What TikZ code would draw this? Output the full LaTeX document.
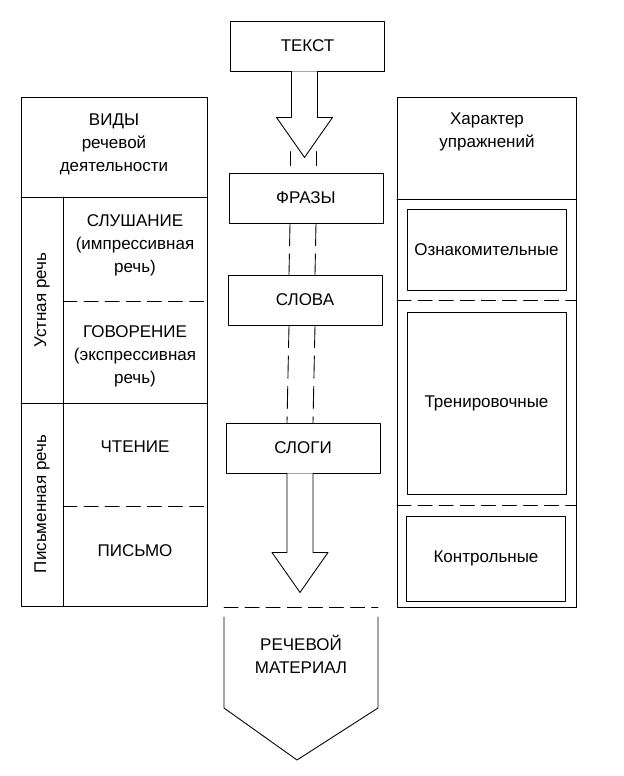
\documentclass[tikz,border=0pt]{standalone}
\usepackage{fontspec}
\setmainfont{Liberation Sans}
\usetikzlibrary{calc}
\newcommand{\hollowarrow}[3]{% #1 node, #2 shaft, #3 head
	\draw[fill=white] ($(#1.south)+(-16,0)$) -- ++(0,#2) -- ++(-15,0) -- ++(28,#3) -- ++(28,-#3) -- ++(-15,0) -- ++(0,-#2);}
\begin{document}
\begin{tikzpicture}[line join=round, line cap=round, x=0.03cm, y=-0.03cm, line width=0.75pt]
	\tikzset{every node/.style={font=\fontsize{14.5}{19.6}\selectfont, align=center, inner sep=0pt},
		box/.style={draw, minimum width=4.62cm, minimum height=1.5cm},
		cell/.style={draw, minimum width=4.77cm},
		dline/.style={dash pattern=on 12pt off 6pt},
		vline/.style={dash pattern=on 19pt off 7pt}}
	\useasboundingbox (0,0) rectangle (624,776);
	% center
	\node[box] (tekst) at (307.5,46) {ТЕКСТ};
	\node[box] (frazy) at (306,198) {ФРАЗЫ};
	\node[box] (slova) at (305,300) {СЛОВА};
	\node[box] (slogi) at (303,448) {СЛОГИ};
	\foreach \dx in {-16,10}
		\draw ($(frazy.north)+(\dx,-21)$) -- ++(0,14);
	\hollowarrow{tekst}{46}{40}
	\foreach \dx in {-16,10} {
		\draw[vline] ($(frazy.south)+(\dx,0)$) -- ($(slova.north)+(\dx,0)$);
		\draw[vline] ($(slova.south)+(\dx,0)$) -- ($(slogi.north)+(\dx,0)$);
	}
	\hollowarrow{slogi}{79}{40}
	\draw[dline] (224,607) -- (378,607);
	\node (mat) at (301,654) {РЕЧЕВОЙ\\МАТЕРИАЛ};
	\draw (224,617) -- (224,708) -- (297,760) -- (378,708) -- (378,617);
	% left
	\draw (21,97) rectangle (207,606);
	\draw (21,197) -- (207,197);
	\draw (63,197) -- (63,606);
	\draw (21,403) -- (207,403);
	\draw[dline] (63,301) -- (207,301);
	\draw[dline] (63,506) -- (207,506);
	\node (vidy) at (114,144) {ВИДЫ\\речевой\\деятельности};
	\node[rotate=90] (ustn) at (42,300) {Устная речь};
	\node[rotate=90] (pism) at (42,504) {Письменная речь};
	\node (slush) at (135,245) {СЛУШАНИЕ\\(импрессивная\\речь)};
	\node (govor) at (135,356) {ГОВОРЕНИЕ\\(экспрессивная\\речь)};
	\node (chten) at (135,447) {ЧТЕНИЕ};
	\node (pismo) at (135,551) {ПИСЬМО};
	% right
	\draw (397,97) rectangle (576,607);
	\draw (397,199) -- (576,199);
	\draw[dline] (397,300) -- (576,300);
	\draw[dline] (397,505) -- (576,505);
	\node (harakt) at (487,132) {Характер\\упражнений};
	\node[cell, minimum height=2.43cm] (oznak) at (486.5,249.5) {Ознакомительные};
	\node[cell, minimum height=5.46cm] (trenir) at (486.5,403) {Тренировочные};
	\node[cell, minimum height=2.55cm] (kontr) at (486,558.5) {Контрольные};
\end{tikzpicture}
\end{document}
